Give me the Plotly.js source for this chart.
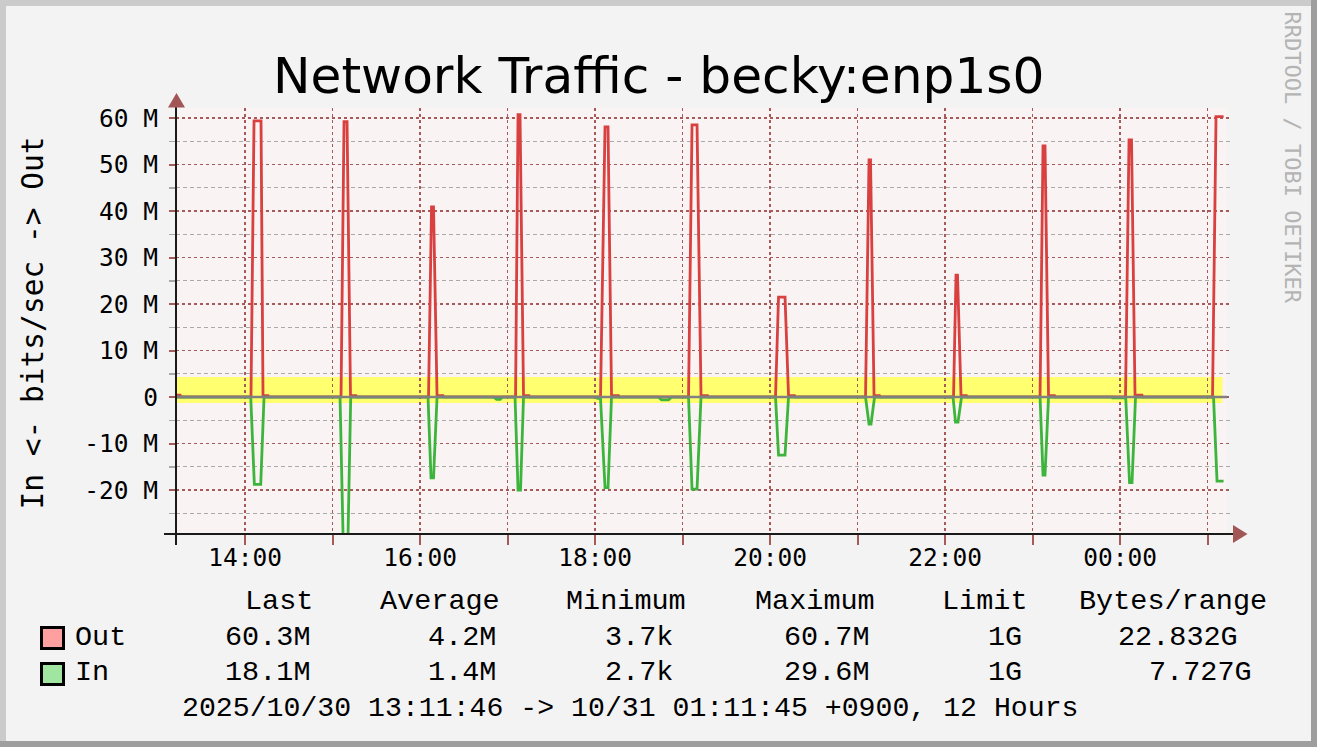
<!DOCTYPE html>
<html><head><meta charset="utf-8">
<script src="https://cdn.plot.ly/plotly-3.0.1.min.js"></script>
<style>html,body{margin:0;padding:0;background:#f3f3f3;overflow:hidden}#chart{width:1317px;height:747px}</style>
</head><body><div id="chart"></div>
<script>
// ---------------- data ----------------
const chartTitle = 'Network Traffic - becky:enp1s0';
const yAxisTitle = 'In <- bits/sec -> Out';
const watermark = 'RRDTOOL / TOBI OETIKER';

const outTime = [
'2025-10-30 13:11:46','2025-10-30 13:15:30','2025-10-30 13:16:00',
'2025-10-30 14:04:05','2025-10-30 14:06:10','2025-10-30 14:10:58','2025-10-30 14:12:20','2025-10-30 14:15:45','2025-10-30 14:16:10',
'2025-10-30 15:05:50','2025-10-30 15:07:53','2025-10-30 15:09:57','2025-10-30 15:12:20','2025-10-30 15:16:05','2025-10-30 15:16:30',
'2025-10-30 16:05:50','2025-10-30 16:07:53','2025-10-30 16:09:15','2025-10-30 16:11:40','2025-10-30 16:15:45','2025-10-30 16:16:10',
'2025-10-30 17:05:30','2025-10-30 17:07:12','2025-10-30 17:08:34','2025-10-30 17:10:58','2025-10-30 17:14:45','2025-10-30 17:15:10',
'2025-10-30 18:03:46','2025-10-30 18:06:51','2025-10-30 18:08:55','2025-10-30 18:11:19','2025-10-30 18:16:05','2025-10-30 18:16:30',
'2025-10-30 19:04:07','2025-10-30 19:06:31','2025-10-30 19:09:57','2025-10-30 19:12:41','2025-10-30 19:17:09','2025-10-30 19:17:30',
'2025-10-30 20:03:46','2025-10-30 20:05:50','2025-10-30 20:10:17','2025-10-30 20:12:41','2025-10-30 20:16:48','2025-10-30 20:17:10',
'2025-10-30 21:05:29','2025-10-30 21:07:53','2025-10-30 21:08:55','2025-10-30 21:11:19','2025-10-30 21:15:05','2025-10-30 21:15:30',
'2025-10-30 22:05:50','2025-10-30 22:07:32','2025-10-30 22:08:34','2025-10-30 22:10:58','2025-10-30 22:14:44','2025-10-30 22:15:10',
'2025-10-30 23:05:09','2025-10-30 23:07:12','2025-10-30 23:08:34','2025-10-30 23:10:58','2025-10-30 23:15:05','2025-10-30 23:15:30',
'2025-10-31 00:03:46','2025-10-31 00:06:10','2025-10-31 00:07:53','2025-10-31 00:10:17','2025-10-31 00:15:05','2025-10-31 00:15:30',
'2025-10-31 01:03:26','2025-10-31 01:05:50','2025-10-31 01:11:00'
];
// Mbit/s
const outMbps = [
0.4,0.4,0.02,
0.02,59.4,59.4,0.3,0.3,0.02,
0.02,59.2,59.2,0.3,0.3,0.02,
0.02,40.9,40.9,0.3,0.3,0.02,
0.02,60.7,60.7,0.3,0.3,0.02,
0.02,58.1,58.1,0.3,0.3,0.02,
0.02,58.5,58.5,0.3,0.3,0.02,
0.02,21.5,21.5,0.3,0.3,0.02,
0.02,51.0,51.0,0.3,0.3,0.02,
0.02,26.2,26.2,0.3,0.3,0.02,
0.02,54.0,54.0,0.3,0.3,0.02,
0.02,55.3,55.3,0.4,0.4,0.02,
0.02,60.3,60.3
];

const inTime = [
'2025-10-30 13:11:46',
'2025-10-30 14:03:55','2025-10-30 14:06:23','2025-10-30 14:10:46','2025-10-30 14:13:02',
'2025-10-30 15:05:09','2025-10-30 15:07:12','2025-10-30 15:10:38','2025-10-30 15:12:29',
'2025-10-30 16:05:29','2025-10-30 16:07:32','2025-10-30 16:09:15','2025-10-30 16:11:40',
'2025-10-30 16:50:40','2025-10-30 16:52:30','2025-10-30 16:55:00','2025-10-30 16:56:30',
'2025-10-30 17:05:09','2025-10-30 17:07:12','2025-10-30 17:08:55','2025-10-30 17:10:58',
'2025-10-30 18:01:20','2025-10-30 18:01:43','2025-10-30 18:03:46','2025-10-30 18:06:51','2025-10-30 18:08:55','2025-10-30 18:11:19',
'2025-10-30 18:43:33','2025-10-30 18:45:36','2025-10-30 18:50:24','2025-10-30 18:52:27',
'2025-10-30 19:04:07','2025-10-30 19:06:31','2025-10-30 19:09:57','2025-10-30 19:12:41',
'2025-10-30 20:03:46','2025-10-30 20:05:50','2025-10-30 20:10:17','2025-10-30 20:12:41',
'2025-10-30 21:05:29','2025-10-30 21:07:53','2025-10-30 21:09:15','2025-10-30 21:11:40',
'2025-10-30 22:05:29','2025-10-30 22:07:12','2025-10-30 22:08:55','2025-10-30 22:11:19',
'2025-10-30 23:05:09','2025-10-30 23:07:12','2025-10-30 23:08:34','2025-10-30 23:10:58',
'2025-10-30 23:54:30','2025-10-30 23:54:51','2025-10-31 00:03:55','2025-10-31 00:06:31','2025-10-31 00:08:14','2025-10-31 00:10:38',
'2025-10-31 01:04:07','2025-10-31 01:06:31','2025-10-31 01:11:00'
];
const inMbps = [
0.02,
0.02,18.8,18.8,0.02,
0.02,29.6,29.6,0.02,
0.02,17.4,17.4,0.02,
0.02,0.5,0.5,0.02,
0.02,20.0,20.0,0.02,
0.02,0.3,0.3,19.5,19.5,0.02,
0.02,0.6,0.6,0.02,
0.02,19.8,19.8,0.02,
0.02,12.5,12.5,0.02,
0.02,5.8,5.8,0.02,
0.02,5.4,5.4,0.02,
0.02,16.8,16.8,0.02,
0.02,0.2,0.2,18.4,18.4,0.02,
0.02,18.1,18.1
];

const yTickVals = [-20e6,-10e6,0,10e6,20e6,30e6,40e6,50e6,60e6];
const yTickLabels = ['-20 M','-10 M','0','10 M','20 M','30 M','40 M','50 M','60 M'];
const yMinorVals = [-25e6,-15e6,-5e6,5e6,15e6,25e6,35e6,45e6,55e6];
const xTickVals = ['2025-10-30 14:00','2025-10-30 15:00','2025-10-30 16:00','2025-10-30 17:00','2025-10-30 18:00','2025-10-30 19:00',
  '2025-10-30 20:00','2025-10-30 21:00','2025-10-30 22:00','2025-10-30 23:00','2025-10-31 00:00','2025-10-31 01:00'];
const xTickLabels = ['14:00','','16:00','','18:00','','20:00','','22:00','','00:00',''];

const legendHeaders = ['Last','Average','Minimum','Maximum','Limit','Bytes/range'];
const seriesNames = ['Out','In'];
const outStats = ['60.3M','4.2M','3.7k','60.7M','1G','22.832G'];
const inStats  = ['18.1M','1.4M','2.7k','29.6M','1G','7.727G'];
const periodText = '2025/10/30 13:11:46 -> 10/31 01:11:45 +0900, 12 Hours';

const bandLow = -1.3e6, bandHigh = 4.3e6;

// ---------------- layout helpers ----------------
const L=176, R=1232, T=108, B=534;
const px = x => (x-L)/(R-L);
const py = y => (B-y)/(B-T);
const GRID='#a65a5a', MINOR='#a9a9a9', RED='#d94040', GREEN='#3db53d';
const MONO='DejaVu Sans Mono', LMONO='Liberation Mono';

const outBps = outMbps.map(v=>v*1e6);
const inBps = inMbps.map(v=>-v*1e6);

const traces = [
  {x: outTime, y: outBps, type:'scatter', mode:'lines', line:{color:RED, width:2.8}, hoverinfo:'skip'},
  {x: inTime, y: inBps, type:'scatter', mode:'lines', line:{color:GREEN, width:2.8}, hoverinfo:'skip'}
];

function ann(text, x, y, o={}) {
  return Object.assign({text, x:px(x), y:py(y), xref:'paper', yref:'paper', showarrow:false,
    xanchor:'left', yanchor:'middle', borderpad:0, borderwidth:0,
    font:{family:LMONO, size:28.5, color:'#000'}}, o);
}
const annotations = [];
annotations.push(ann(chartTitle, 658.5, 75, {xanchor:'center', font:{family:'DejaVu Sans', size:50.2, color:'#000'}}));
annotations.push(ann(yAxisTitle, 32, 323.5, {xanchor:'center', textangle:-90, font:{family:MONO, size:29.5, color:'#000'}}));
annotations.push(ann(watermark, 1292.5, 157, {xanchor:'center', textangle:90, font:{family:MONO, size:22, color:'#b4b4b4'}}));
const headX = [244.5, 379.5, 565.5, 754.5, 942, 1079];
const outX  = [224.5, 428, 604.5, 783.5, 987.5, 1118];
const inX   = [224.5, 428, 604.5, 783.5, 987.5, 1149];
legendHeaders.forEach((t,i)=>annotations.push(ann(t, headX[i], 601)));
annotations.push(ann(seriesNames[0], 74.5, 637));
annotations.push(ann(seriesNames[1], 74.5, 672.5));
outStats.forEach((t,i)=>annotations.push(ann(t, outX[i], 637)));
inStats.forEach((t,i)=>annotations.push(ann(t, inX[i], 672.5)));
annotations.push(ann(periodText, 181.5, 708, {font:{family:LMONO, size:28.2, color:'#000'}}));

function rectPx(x0,y0,x1,y1,fill,layer,line){
  return {type:'rect', xref:'paper', yref:'paper', x0:px(x0), x1:px(x1), y0:py(y0), y1:py(y1),
    fillcolor:fill, line: line || {width:0}, layer: layer||'above'};
}
function pathPx(pts, fill){
  const d = pts.map((p,i)=>(i?'L':'M')+px(p[0])+','+py(p[1])).join(' ')+' Z';
  return {type:'path', xref:'paper', yref:'paper', path:d, fillcolor:fill, line:{width:0}, layer:'above'};
}
const shapes = [
  rectPx(1227, T, R, B, '#f3f3f3', 'below'),
  {type:'rect', xref:'x', yref:'y', x0:outTime[0], x1:'2025-10-31 01:10:17', y0:bandLow, y1:bandHigh, fillcolor:'#ffff70', line:{width:0}, layer:'below'},
  {type:'line', xref:'paper', yref:'y', x0:0, x1:px(1227), y0:0, y1:0, line:{color:'#808080', width:2.4}, layer:'above'},
  {type:'line', xref:'paper', yref:'paper', x0:px(164), x1:px(1236), y0:0, y1:0, line:{color:'#1a1a1a', width:2}, layer:'above'},
  {type:'line', xref:'paper', yref:'paper', x0:0, x1:0, y0:py(545), y1:py(106), line:{color:'#1a1a1a', width:2}, layer:'above'},
  pathPx([[168,107.5],[185,107.5],[176.5,93]], '#a35656'),
  pathPx([[1233,525],[1233,543],[1247.5,534]], '#a35656'),
  rectPx(41.5,627.5,63.5,648.5,'#ffa0a0','above',{color:'#000',width:3}),
  rectPx(41.5,663.5,63.5,684.5,'#a0e6a0','above',{color:'#000',width:3}),
  rectPx(0,0,1317,6,'#cbcbcb'),
  rectPx(0,0,6,747,'#cbcbcb'),
  rectPx(0,741,1317,747,'#9e9e9e'),
  rectPx(1311,0,1317,747,'#9e9e9e')
];

const layout = {
  width:1317, height:747,
  margin:{l:L, r:1317-R, t:T, b:747-B, pad:0},
  paper_bgcolor:'#f3f3f3', plot_bgcolor:'#f9f3f3',
  showlegend:false,
  xaxis:{type:'date', range:['2025-10-30 13:12:40','2025-10-31 01:16:47'],
    tickmode:'array', tickvals:xTickVals, ticktext:xTickLabels,
    ticks:'outside', ticklen:10, tickwidth:2, tickcolor:GRID,
    showgrid:true, gridcolor:GRID, gridwidth:1.5, griddash:'dot',
    zeroline:false, showline:false, automargin:false, fixedrange:true,
    tickfont:{family:MONO, size:24.5, color:'#000'}, ticklabelstandoff:-8},
  yaxis:{range:[-29.46e6, 62.15e6],
    tickmode:'array', tickvals:yTickVals, ticktext:yTickLabels,
    ticks:'outside', ticklen:6, tickwidth:2, tickcolor:GRID,
    showgrid:true, gridcolor:GRID, gridwidth:1.5, griddash:'dot',
    zeroline:false, showline:false, automargin:false, fixedrange:true,
    tickfont:{family:MONO, size:24.5, color:'#000'}, ticklabelstandoff:6,
    minor:{tickmode:'array', tickvals:yMinorVals, ticks:'outside', ticklen:6, tickwidth:1.5, tickcolor:MINOR,
      showgrid:true, gridcolor:MINOR, gridwidth:1.2, griddash:'4px,3px'}},
  annotations, shapes
};
Plotly.newPlot('chart', traces, layout, {displayModeBar:false, staticPlot:true});
</script></body></html>
